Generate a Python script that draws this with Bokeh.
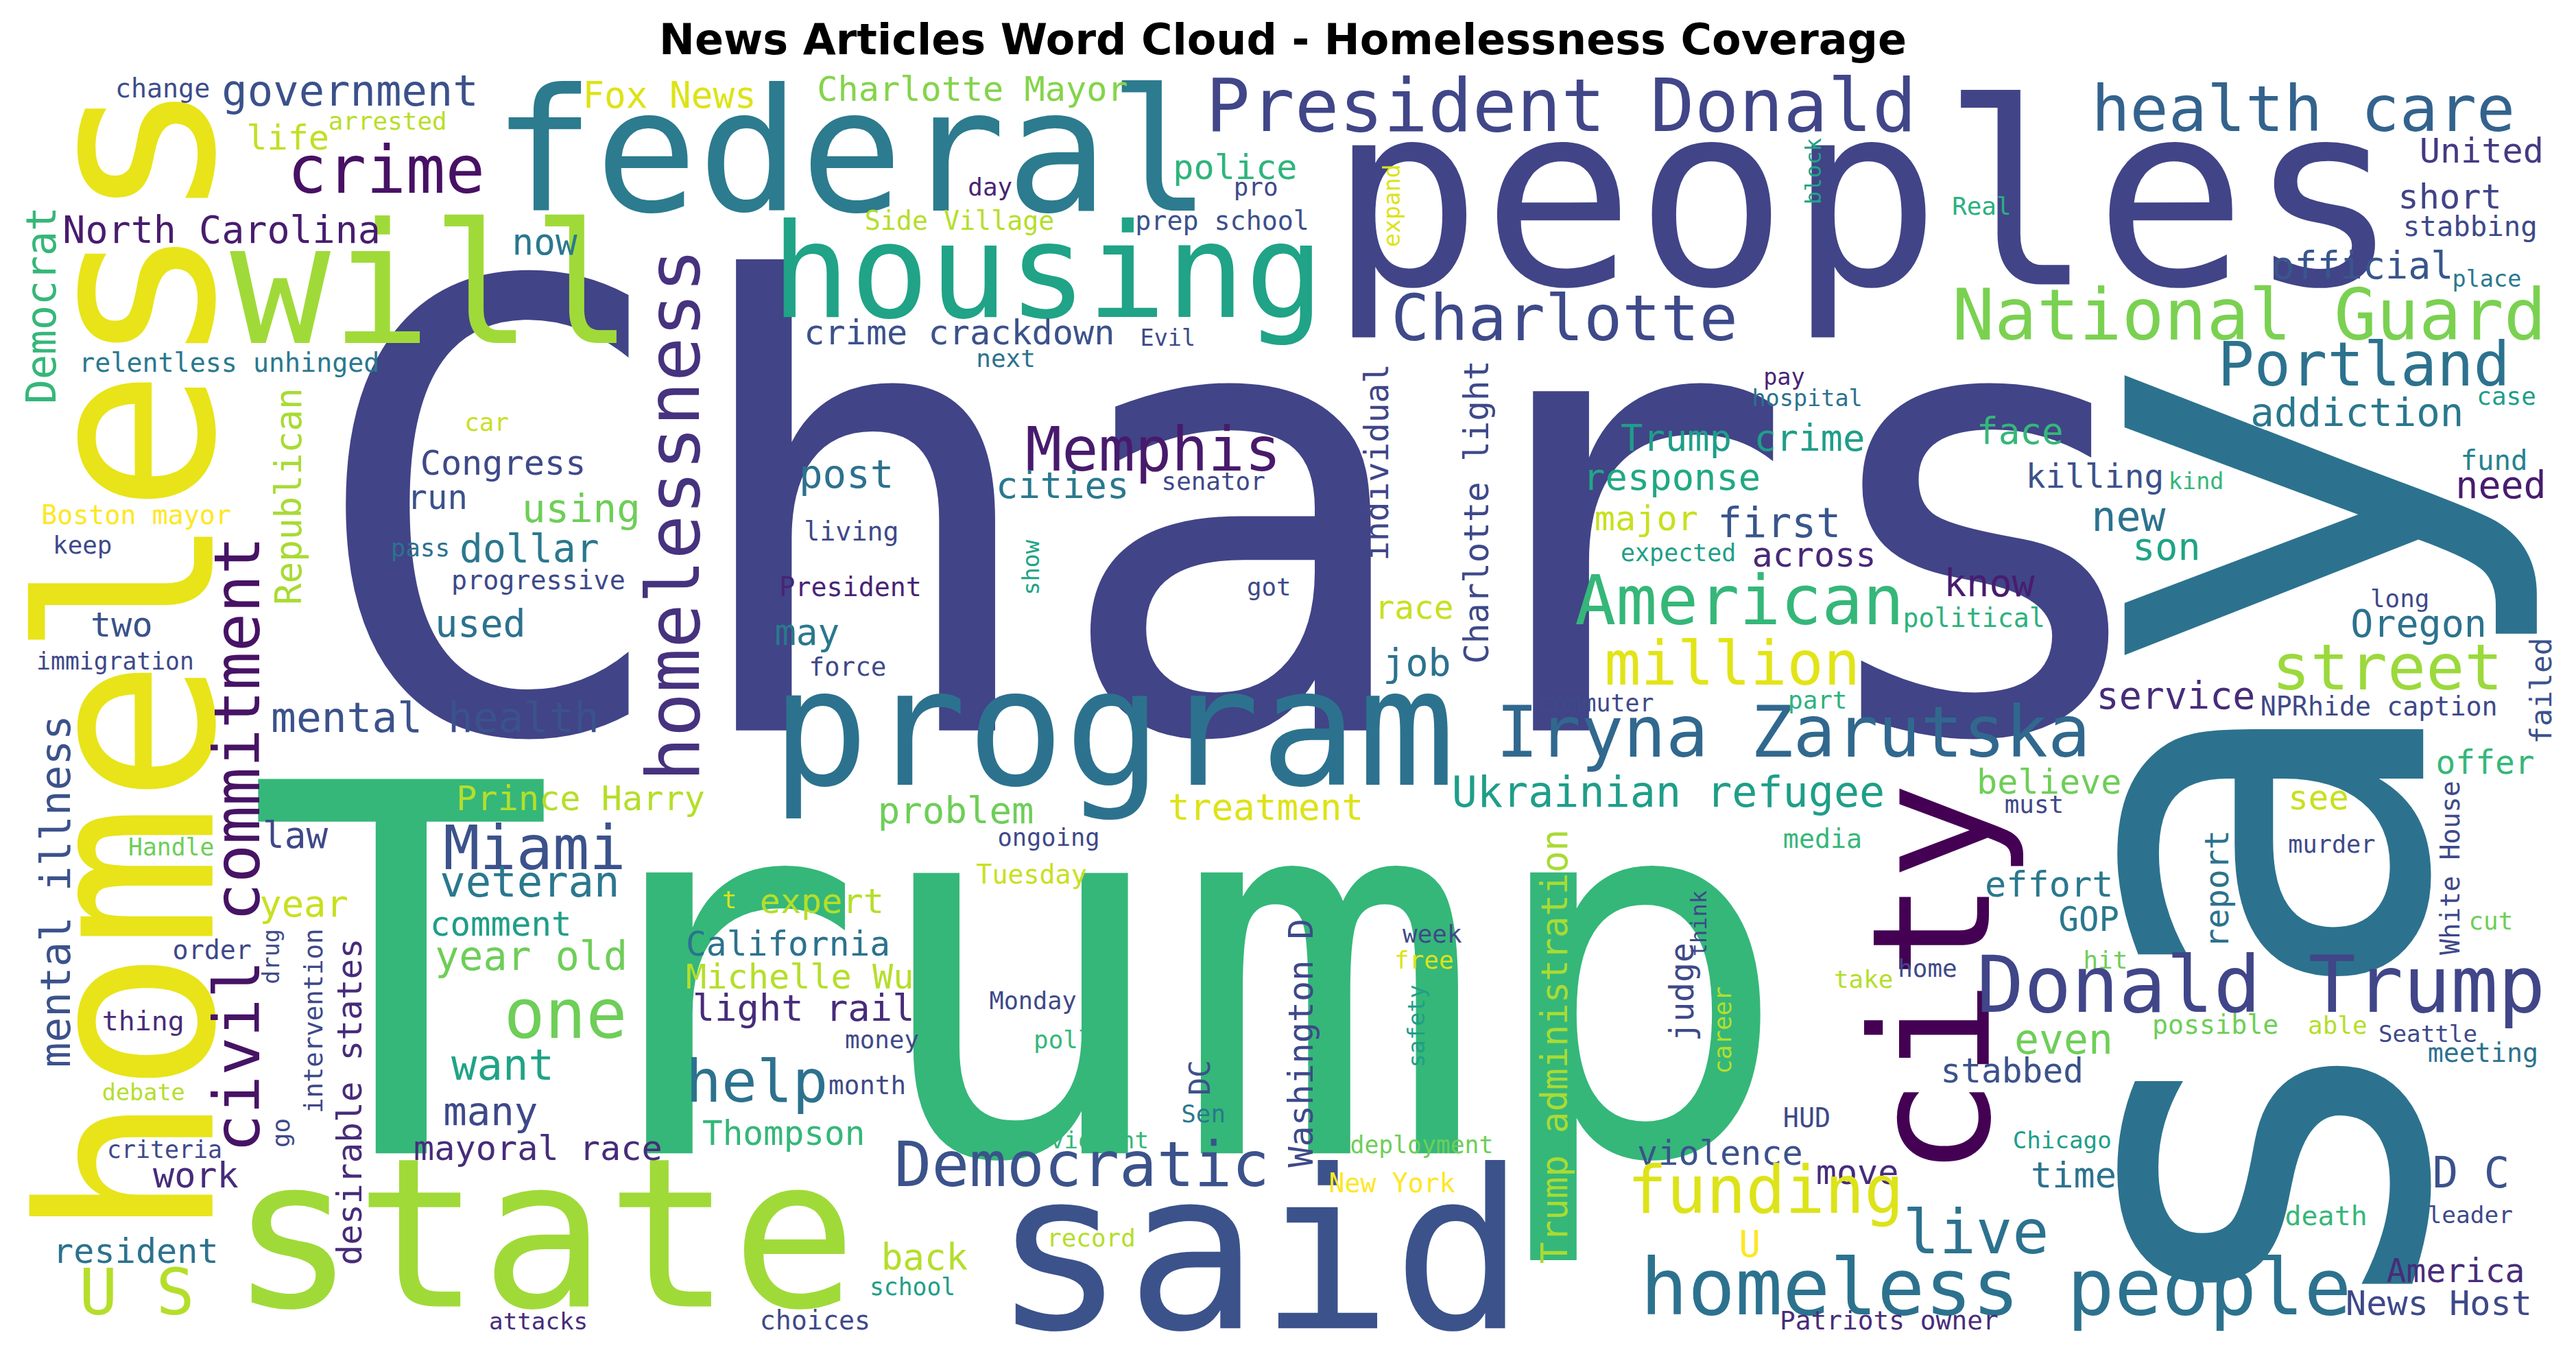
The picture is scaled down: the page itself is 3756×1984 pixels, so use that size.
import math
from bokeh.plotting import figure
from bokeh.models import ColumnDataSource, Range1d
from bokeh.core.properties import value
from bokeh.embed import file_html
from bokeh.resources import INLINE

title = "News Articles Word Cloud - Homelessness Coverage"

# word, left x (or baseline x when vertical), baseline y (or bottom y when vertical),
# font size, colour, vertical?   -- all in 1564 x 826 picture units
words = [
    ("Chars", 185, 440, 378, "#414487", 0),
    ("Trump", 150, 700, 313, "#35b779", 0),
    ("say", 1472, 820, 333, "#2c728e", 1),
    ("peoples", 810, 171, 155, "#414487", 0),
    ("homeless", 127, 758, 147, "#e8e419", 1),
    ("federal", 300, 127, 104, "#2c7b8e", 0),
    ("housing", 470, 192, 80, "#20a386", 0),
    ("will", 140, 208, 102, "#a0da39", 0),
    ("program", 470, 478, 99, "#2c728e", 0),
    ("state", 140, 797, 127, "#a0da39", 0),
    ("said", 605, 810, 135, "#3b528b", 0),
    ("city", 1211, 720, 100, "#440154", 1),
    ("homelessness", 425, 478, 45, "#46327e", 1),
    ("civil commitment", 157, 705, 39, "#471365", 1),
    ("President Donald", 735, 79, 45, "#404688", 0),
    ("health care", 1275, 79, 39, "#33638d", 0),
    ("government", 135, 64, 26, "#3b518b", 0),
    ("change", 70, 59, 16, "#3d4d8a", 0),
    ("Fox News", 355, 65, 22, "#dde318", 0),
    ("Charlotte Mayor", 498, 61, 21, "#84d44b", 0),
    ("arrested", 200, 79, 15, "#b8de29", 0),
    ("life", 150, 91, 21, "#c2df23", 0),
    ("crime", 175, 117, 40, "#471164", 0),
    ("police", 715, 109, 21, "#2fb47c", 0),
    ("day", 590, 119, 15, "#482475", 0),
    ("pro", 752, 119, 15, "#3e4989", 0),
    ("United", 1475, 99, 21, "#443a83", 0),
    ("short", 1462, 127, 21, "#414487", 0),
    ("stabbing", 1465, 144, 17, "#3e4989", 0),
    ("official", 1385, 170, 23, "#39568c", 0),
    ("place", 1495, 175, 14, "#2a788e", 0),
    ("Real", 1190, 131, 15, "#2ab07f", 0),
    ("block", 1110, 125, 13.5, "#20a386", 1),
    ("expand", 853, 151, 14, "#dde318", 1),
    ("Side Village", 527, 140, 16, "#b5de2b", 0),
    ("prep school", 692, 140, 16, "#3b518b", 0),
    ("North Carolina", 38, 148, 23, "#481c6e", 0),
    ("now", 312, 155, 22, "#2a788e", 0),
    ("Charlotte", 848, 207, 39, "#3e4a89", 0),
    ("National Guard", 1190, 207, 43, "#7ad151", 0),
    ("Portland", 1352, 235, 37, "#2c728e", 0),
    ("crime crackdown", 490, 210, 21, "#3b528b", 0),
    ("Evil", 695, 211, 14, "#3e4989", 0),
    ("next", 595, 224, 15, "#2c728e", 0),
    ("relentless unhinged", 48, 227, 16, "#2a788e", 0),
    ("Democrat", 33, 247, 25, "#35b779", 1),
    ("car", 283, 263, 15, "#c8e020", 0),
    ("individual", 846, 343, 20, "#404688", 1),
    ("Charlotte light", 907, 406, 20.5, "#3e4989", 1),
    ("Republican", 183, 370, 22, "#a8db34", 1),
    ("pay", 1075, 235, 14, "#482475", 0),
    ("hospital", 1068, 248, 14, "#2c728e", 0),
    ("case", 1510, 247, 15, "#1f9e89", 0),
    ("addiction", 1372, 260, 24, "#2a788e", 0),
    ("Memphis", 625, 287, 37, "#481a6c", 0),
    ("Trump crime", 988, 275, 22.5, "#1f9e89", 0),
    ("face", 1205, 271, 22, "#35b779", 0),
    ("Congress", 256, 290, 21, "#3e4989", 0),
    ("cities", 607, 304, 22.5, "#2a788e", 0),
    ("post", 487, 298, 24, "#2c728e", 0),
    ("senator", 708, 299, 15, "#3e4989", 0),
    ("killing", 1235, 298, 20, "#3b518b", 0),
    ("kind", 1322, 299, 14, "#35b779", 0),
    ("fund", 1500, 287, 17, "#26828e", 0),
    ("need", 1497, 304, 23, "#481c6e", 0),
    ("response", 965, 299, 22.5, "#22a884", 0),
    ("run", 248, 311, 20.5, "#3b528b", 0),
    ("using", 318, 319, 24, "#6ece58", 0),
    ("Boston mayor", 25, 320, 16, "#fde725", 0),
    ("living", 490, 330, 16, "#3e4989", 0),
    ("major", 972, 324, 21, "#c8e020", 0),
    ("first", 1047, 328, 25, "#39568c", 0),
    ("new", 1275, 324, 25, "#2c728e", 0),
    ("son", 1300, 342, 23, "#20a386", 0),
    ("keep", 32, 338, 15, "#3e4989", 0),
    ("pass", 238, 340, 15, "#2c728e", 0),
    ("dollar", 280, 343, 23.6, "#2a788e", 0),
    ("expected", 988, 343, 14.6, "#1f9e89", 0),
    ("across", 1068, 346, 21, "#482878", 0),
    ("show", 633, 364, 14, "#20a386", 1),
    ("progressive", 275, 360, 16, "#3e4989", 0),
    ("President", 475, 364, 16, "#482475", 0),
    ("got", 760, 364, 15, "#3e4989", 0),
    ("American", 960, 381, 41.7, "#35b779", 0),
    ("know", 1185, 364, 23, "#481c6e", 0),
    ("race", 838, 378, 20, "#c8e020", 0),
    ("political", 1160, 383, 16, "#2db27d", 0),
    ("long", 1445, 371, 15, "#3e4989", 0),
    ("Oregon", 1433, 389, 23, "#2c728e", 0),
    ("two", 55, 389, 21, "#3b528b", 0),
    ("used", 265, 389, 23, "#2c728e", 0),
    ("may", 472, 394, 22, "#2a788e", 0),
    ("immigration", 22, 409, 14.5, "#3e4989", 0),
    ("force", 493, 413, 15.7, "#3e4989", 0),
    ("job", 843, 413, 23, "#2c728e", 0),
    ("million", 978, 418, 37, "#e2e418", 0),
    ("street", 1385, 421, 39, "#9bd93c", 0),
    ("failed", 1555, 455, 18, "#3b528b", 1),
    ("mental health", 165, 447, 25.6, "#3b528b", 0),
    ("service", 1278, 433, 23, "#472c7a", 0),
    ("NPRhide caption", 1378, 437, 16, "#3e4989", 0),
    ("commuter", 938, 435, 14.6, "#3e4989", 0),
    ("part", 1090, 433, 15, "#2db27d", 0),
    ("Iryna Zarutska", 912, 462, 43, "#31688e", 0),
    ("Ukrainian refugee", 885, 493, 25.8, "#1f9e89", 0),
    ("believe", 1205, 485, 21, "#6ece58", 0),
    ("offer", 1485, 473, 20, "#35b779", 0),
    ("Prince Harry", 278, 495, 21, "#b5de2b", 0),
    ("treatment", 712, 501, 22, "#dde318", 0),
    ("problem", 535, 503, 22.6, "#6ece58", 0),
    ("see", 1395, 495, 20.5, "#c8e020", 0),
    ("must", 1222, 497, 15, "#404688", 0),
    ("ongoing", 608, 517, 14.8, "#3e4989", 0),
    ("Handle", 78, 523, 14.5, "#6ece58", 0),
    ("law", 160, 518, 22, "#3e4989", 0),
    ("Miami", 270, 531, 37, "#3b528b", 0),
    ("media", 1087, 518, 16, "#35b779", 0),
    ("murder", 1395, 521, 14.7, "#3e4989", 0),
    ("report", 1358, 580, 20, "#2c728e", 1),
    ("White House", 1499, 584, 16, "#3e4989", 1),
    ("veteran", 268, 548, 26, "#2a788e", 0),
    ("Tuesday", 595, 540, 16, "#c8e020", 0),
    ("effort", 1210, 548, 21.7, "#2a788e", 0),
    ("year", 158, 560, 22.5, "#c8e020", 0),
    ("t", 440, 555, 15, "#dde318", 0),
    ("expert", 463, 558, 21, "#b5de2b", 0),
    ("comment", 262, 572, 20.5, "#1f9e89", 0),
    ("GOP", 1255, 569, 20.5, "#2a788e", 0),
    ("cut", 1505, 568, 15, "#6ece58", 0),
    ("drug", 170, 602, 14, "#3e4989", 1),
    ("order", 105, 586, 16, "#3e4989", 0),
    ("week", 855, 576, 15, "#3e4989", 0),
    ("Washington D", 800, 714, 21, "#3e4989", 1),
    ("desirable states", 220, 774, 20.7, "#472c7a", 1),
    ("intervention", 196, 681, 15.6, "#3e4989", 1),
    ("mental illness", 42, 653, 25.5, "#3b528b", 1),
    ("Trump administration", 955, 773, 22, "#a8db34", 1),
    ("judge", 1032, 637, 20, "#3e4989", 1),
    ("think", 1040, 585, 13.4, "#3e4989", 1),
    ("career", 1055, 657, 14.8, "#b5de2b", 1),
    ("safety", 868, 653, 14, "#1f9e89", 1),
    ("California", 418, 584, 20.7, "#2c728e", 0),
    ("year old", 265, 593, 24.4, "#6ece58", 0),
    ("free", 850, 592, 15, "#dde318", 0),
    ("hit", 1270, 592, 15, "#6ece58", 0),
    ("home", 1157, 597, 15, "#3e4989", 0),
    ("take", 1118, 604, 15, "#b5de2b", 0),
    ("Donald Trump", 1205, 618, 48, "#404688", 0),
    ("Michelle Wu", 418, 604, 21, "#b5de2b", 0),
    ("one", 307, 634, 41.6, "#6ece58", 0),
    ("light rail", 422, 624, 22.5, "#472c7a", 0),
    ("Monday", 603, 617, 14.7, "#3e4989", 0),
    ("thing", 62, 630, 16.7, "#472c7a", 0),
    ("possible", 1312, 632, 16, "#6ece58", 0),
    ("able", 1407, 632, 15, "#b5de2b", 0),
    ("Seattle", 1450, 637, 14.3, "#3e4989", 0),
    ("money", 515, 641, 15, "#3e4989", 0),
    ("poll", 630, 641, 15, "#35b779", 0),
    ("even", 1228, 644, 25, "#6ece58", 0),
    ("meeting", 1480, 649, 16, "#2c728e", 0),
    ("want", 275, 660, 26, "#20a386", 0),
    ("DC", 737, 670, 18, "#3b528b", 1),
    ("help", 418, 673, 36, "#2c728e", 0),
    ("month", 505, 669, 15.7, "#3e4989", 0),
    ("stabbed", 1183, 662, 20.7, "#3b528b", 0),
    ("debate", 62, 673, 14, "#b5de2b", 0),
    ("many", 270, 688, 24, "#3e4989", 0),
    ("Sen", 720, 686, 15, "#2a788e", 0),
    ("HUD", 1087, 689, 16, "#3e4989", 0),
    ("Thompson", 428, 700, 20.6, "#35b779", 0),
    ("go", 176, 702, 15, "#3e4989", 1),
    ("Chicago", 1227, 702, 14.3, "#1f9e89", 0),
    ("violent", 640, 702, 14.3, "#35b779", 0),
    ("deployment", 823, 705, 14.5, "#6ece58", 0),
    ("criteria", 65, 708, 14.6, "#3e4989", 0),
    ("mayoral race", 252, 709, 21, "#472c7a", 0),
    ("Democratic", 545, 725, 38, "#3b528b", 0),
    ("violence", 998, 712, 21, "#3b528b", 0),
    ("work", 93, 726, 21.7, "#472c7a", 0),
    ("move", 1107, 724, 21, "#472c7a", 0),
    ("time", 1238, 726, 21.7, "#2c728e", 0),
    ("D C", 1483, 726, 26, "#3b528b", 0),
    ("funding", 992, 741, 40, "#dde318", 0),
    ("New York", 810, 729, 16, "#fde725", 0),
    ("U", 1060, 768, 22, "#fde725", 0),
    ("live", 1160, 766, 37, "#2c728e", 0),
    ("homeless people", 1000, 803, 48, "#2c728e", 0),
    ("resident", 32, 772, 21, "#2c728e", 0),
    ("U S", 48, 803, 39, "#b5de2b", 0),
    ("back", 537, 776, 22, "#b5de2b", 0),
    ("record", 638, 762, 15, "#b5de2b", 0),
    ("school", 530, 792, 14.5, "#1f9e89", 0),
    ("death", 1393, 749, 16.7, "#35b779", 0),
    ("leader", 1480, 748, 14.4, "#3e4989", 0),
    ("America", 1455, 784, 20, "#472c7a", 0),
    ("News Host", 1430, 804, 21, "#3e4989", 0),
    ("attacks", 298, 813, 14.3, "#472c7a", 0),
    ("choices", 463, 813, 16, "#3e4989", 0),
    ("Patriots owner", 1085, 813, 15.8, "#472c7a", 0),
]

W, H = 3740, 1968
PW, PH = 1564, 826
k = W / PW
# the svg renderer puts the "alphabetic" baseline lower than the glyphs' real one
SHIFT = 0.33

xs, ys = [], []
for w in words:
    off = SHIFT * w[3]
    if w[5]:
        xs.append(w[1] - off)
        ys.append(w[2])
    else:
        xs.append(w[1])
        ys.append(w[2] - off)

data = dict(
    text=[w[0] for w in words],
    x=xs,
    y=ys,
    size=["%.1fpx" % (w[3] * k) for w in words],
    color=[w[4] for w in words],
    angle=[math.pi / 2 if w[5] else 0 for w in words],
)
src = ColumnDataSource(data)

p = figure(width=W, height=H, x_range=Range1d(0, PW), y_range=Range1d(PH, 0),
           output_backend="svg", toolbar_location=None, min_border=0)
p.axis.visible = False
p.grid.visible = False
p.outline_line_color = None
p.background_fill_color = "white"

p.text(x="x", y="y", text="text", source=src, angle="angle",
       text_font=value("DejaVu Sans Mono"), text_font_size="size",
       text_color="color", text_align="left", text_baseline="alphabetic")

p.text(x=[PW / 2], y=[24], text=[title], text_font=value("DejaVu Sans"),
       text_font_style="bold", text_font_size="%dpx" % (26 * k),
       text_color="black", text_align="center", text_baseline="middle")

open("out.html", "w").write(file_html(p, INLINE))
